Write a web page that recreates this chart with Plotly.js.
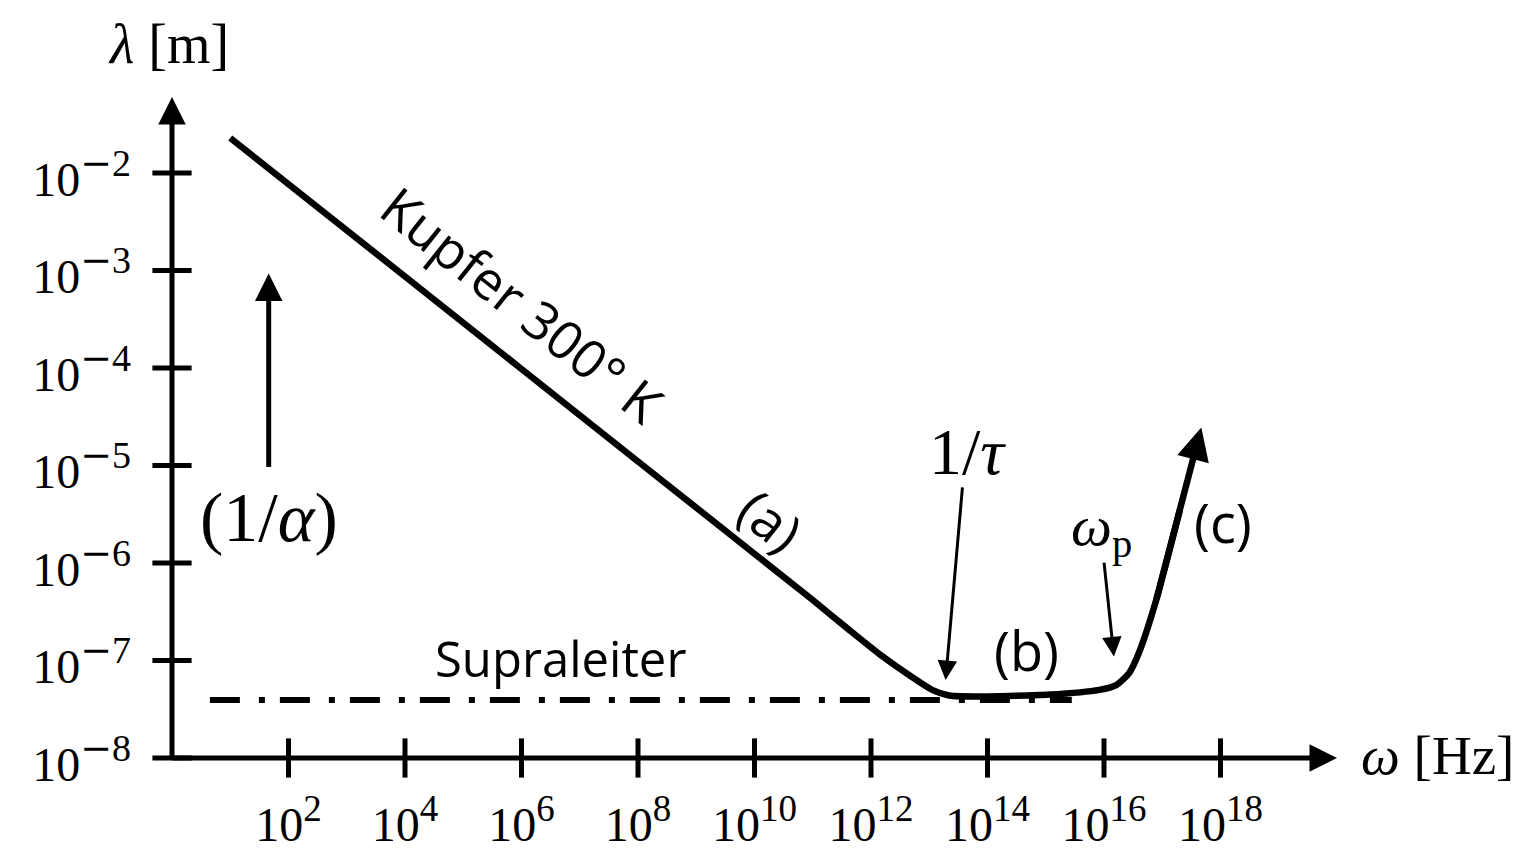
<!DOCTYPE html>
<html><head><meta charset="utf-8">
<script src="https://cdn.plot.ly/plotly-3.0.1.min.js"></script>
<style>html,body{margin:0;padding:0;background:#fff}</style>
</head><body><div id="chart" style="width:1521px;height:850px"></div>
<script>
// Kupfer 300 K: frequency omega [Hz] and length lambda [m]
const omegaCu  = [1.0e1, 1.0e4, 1.0e8, 1.0e11, 4.27e11, 1.58e12, 6.03e12, 1.12e13, 2.19e13, 8.1e13, 1.15e15, 8.3e15, 1.62e16, 2.69e16, 3.98e16, 7.9e16, 2.0e17, 4.68e17];
const lambdaCu = [2.29e-2, 8.7e-4, 1.10e-5, 4.17e-7, 2.05e-7, 1.10e-7, 6.3e-8, 5.0e-8, 4.37e-8, 4.27e-8, 4.47e-8, 5.0e-8, 5.6e-8, 7.4e-8, 1.2e-7, 4.2e-7, 3.47e-6, 2.45e-5];
// Supraleiter (dash-dot)
const omegaSC  = [4.47e0, 2.8e15];
const lambdaSC = [3.94e-8, 3.94e-8];
// marker arrows: [tail, tip]
const omegaAlpha  = [45.7, 45.7];
const lambdaAlpha = [9.55e-6, 9.33e-4];
const omegaTau    = [3.72e13, 1.91e13];
const lambdaTau   = [6.03e-6, 6.31e-8];
const omegaWp     = [1.0e16, 1.48e16];
const lambdaWp    = [1.02e-6, 1.10e-7];
// axes
const axisOrigin = [1e0, 1e-8];
const axisEnd    = [1e20, 6.03e-2];
const xTickVals = [1e2, 1e4, 1e6, 1e8, 1e10, 1e12, 1e14, 1e16, 1e18];
const xTickExp  = ['2', '4', '6', '8', '10', '12', '14', '16', '18'];
const yTickVals = [1e-8, 1e-7, 1e-6, 1e-5, 1e-4, 1e-3, 1e-2];
const yTickExp  = ['8', '7', '6', '5', '4', '3', '2'];

const L = Math.log10;
const n = omegaCu.length;
const SERIF = 'Liberation Serif';
const SANS = 'Open Sans';
const xSup = e => '10<sup><span style="font-size:37px">' + e + '</span></sup>';
const ySup = e => '10<sup><span style="font-size:38px"><span style="font-family:DejaVu Serif">−</span>' + e + '</span></sup>';

const traces = [
  {x: omegaCu.slice(0, n - 1), y: lambdaCu.slice(0, n - 1), mode: 'lines',
   line: {color: '#000', width: 6.5, shape: 'spline', smoothing: 0.6}, hoverinfo: 'skip'},
  {x: omegaSC, y: lambdaSC, mode: 'lines',
   line: {color: '#000', width: 6, dash: '30px,19px,6px,15px'}, hoverinfo: 'skip'},
  {x: xTickVals, y: xTickVals.map(() => axisOrigin[1]), mode: 'markers', cliponaxis: false,
   marker: {symbol: 'line-ns', size: 28, line: {color: '#000', width: 5}}, hoverinfo: 'skip'},
  {x: yTickVals.map(() => axisOrigin[0]), y: yTickVals, mode: 'markers', cliponaxis: false,
   marker: {symbol: 'line-ew', size: 28, line: {color: '#000', width: 5}}, hoverinfo: 'skip'}
];

function arrow(x0, y0, x1, y1, w, s) {
  return {xref: 'x', yref: 'y', axref: 'x', ayref: 'y', text: '', font: {size: 1}, borderpad: 0,
    x: L(x1), y: L(y1), ax: L(x0), ay: L(y0),
    showarrow: true, arrowhead: 2, arrowwidth: w, arrowsize: s, arrowcolor: '#000', standoff: 0};
}
function label(text, x, y, family, size, angle) {
  return {xref: 'x', yref: 'y', x: x, y: y, text: text, showarrow: false, textangle: angle || 0,
    font: {family: family, size: size, color: '#000'}, xanchor: 'center', yanchor: 'middle'};
}

const annotations = [
  arrow(axisOrigin[0], axisOrigin[1], axisEnd[0], axisOrigin[1], 5, 1.1),
  arrow(axisOrigin[0], axisOrigin[1], axisOrigin[0], axisEnd[1], 5, 1.1),
  // curve (c) ends in an arrow: straight from the third-last point to the tip
  arrow(omegaCu[n - 3], lambdaCu[n - 3], omegaCu[n - 1], lambdaCu[n - 1], 6.5, 1.0),
  arrow(omegaAlpha[0], lambdaAlpha[0], omegaAlpha[1], lambdaAlpha[1], 5, 1.1),
  arrow(omegaTau[0], lambdaTau[0], omegaTau[1], lambdaTau[1], 3, 1.3),
  arrow(omegaWp[0], lambdaWp[0], omegaWp[1], lambdaWp[1], 3, 1.3),
  label('Kupfer 300° K', 6.02, -3.35, SANS, 53, 38.5),
  label('(a)', 10.29, -5.56, SANS, 54, 38.5),
  label('(b)', 14.67, -6.89, SANS, 54),
  label('(c)', 18.04, -5.58, SANS, 54),
  label('Supraleiter', 6.67, -6.97, SANS, 49),
  label('(1/<i>α</i>)', 1.66, -5.53, SERIF, 70),
  label('1/<i>τ</i>', 13.65, -4.86, SERIF, 66),
  label('<i>ω</i><sub>p</sub>', 15.95, -5.66, SERIF, 58),
  {xref: 'paper', yref: 'paper', x: -0.0034, y: 1.080, text: '<i>λ</i> [m]', showarrow: false,
   font: {family: SERIF, size: 56, color: '#000'}, xanchor: 'center', yanchor: 'middle'},
  {xref: 'paper', yref: 'paper', x: 1.086, y: 0.0045, text: '<i>ω</i> [Hz]', showarrow: false,
   font: {family: SERIF, size: 55, color: '#000'}, xanchor: 'center', yanchor: 'middle'}
];

const axisCommon = {type: 'log', showline: false, showgrid: false, zeroline: false, ticks: '',
  tickfont: {family: SERIF, size: 48, color: '#000'}, fixedrange: true};

const layout = {
  width: 1521, height: 850,
  margin: {l: 172, r: 184, t: 97, b: 92, pad: 0},
  paper_bgcolor: '#fff', plot_bgcolor: '#fff',
  showlegend: false,
  xaxis: Object.assign({}, axisCommon, {range: [L(axisOrigin[0]), L(axisEnd[0])],
    tickvals: xTickVals, ticktext: xTickExp.map(xSup), ticklabelstandoff: 34}),
  yaxis: Object.assign({}, axisCommon, {range: [L(axisOrigin[1]), L(axisEnd[1])],
    tickvals: yTickVals, ticktext: yTickExp.map(ySup), ticklabelstandoff: 40, ticklabelshift: 6}),
  annotations: annotations
};

Plotly.newPlot('chart', traces, layout, {displayModeBar: false, staticPlot: true});
</script></body></html>
